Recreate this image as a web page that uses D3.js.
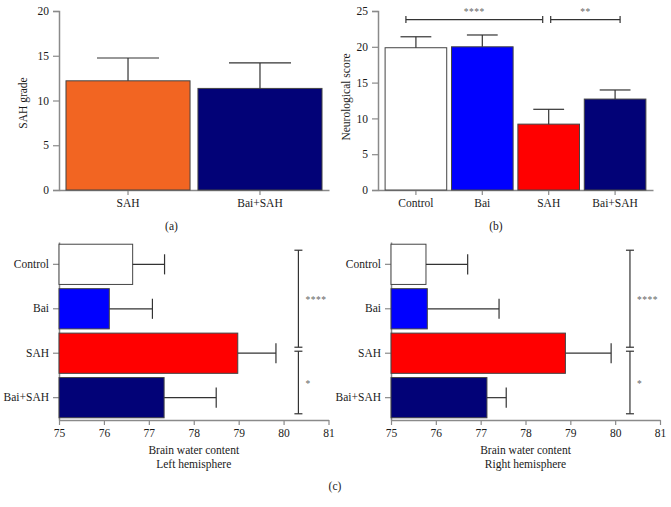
<!DOCTYPE html>
<html><head><meta charset="utf-8">
<script src="https://cdn.jsdelivr.net/npm/d3@7"></script>
<style>
body{margin:0;background:#fff;}
svg text{font-family:"Liberation Serif","Times New Roman",serif;}
</style></head>
<body>
<svg id="c" width="671" height="507"></svg>
<script>
// ---- Data ----
const gradeCats = ["SAH", "Bai+SAH"];
const gradeMean = [12.2, 11.35];
const gradeErr  = [14.75, 14.2];
const gradeColors = ["#f26522", "#020277"];

const neuroCats = ["Control", "Bai", "SAH", "Bai+SAH"];
const neuroMean = [19.87, 20.0, 9.2, 12.7];
const neuroErr  = [21.4, 21.65, 11.27, 13.97];

const waterCats = ["Control", "Bai", "SAH", "Bai+SAH"];
const leftMean  = [76.64, 76.12, 78.98, 77.34];
const leftErr   = [77.35, 77.08, 79.83, 78.5];
const rightMean = [75.78, 75.81, 78.89, 77.14];
const rightErr  = [76.71, 77.41, 79.91, 77.57];
const fourColors = ["#ffffff", "#0000ff", "#ff0000", "#020277"];

const gradeTicks = [0, 5, 10, 15, 20];
const neuroTicks = [0, 5, 10, 15, 20, 25];
const waterTicks = [75, 76, 77, 78, 79, 80, 81];

const svg = d3.select("#c");
const AXIS = "#8a8a8a", ERR = "#333", TXT = "#1a1a1a";

function styleAxis(g){
  g.select(".domain").attr("stroke", AXIS).attr("stroke-width", 1.5);
  g.selectAll(".tick line").attr("stroke", AXIS).attr("stroke-width", 1.2);
  g.selectAll(".tick text").attr("fill", TXT).attr("font-size", 11.5)
    .attr("font-family", '"Liberation Serif", serif');
}

// ---- Vertical bar panels ----
function vPanel(opt){
  const x = d3.scaleBand().domain(opt.cats).range(opt.xr)
    .paddingInner(opt.pi).paddingOuter(opt.po);
  const y = d3.scaleLinear().domain([0, opt.max]).range([190, 11]);
  const g = svg.append("g");
  g.append("g").attr("transform", `translate(${opt.xr[0]},0)`)
    .call(d3.axisLeft(y).tickValues(opt.ticks).tickFormat(d3.format("d")).tickSize(6).tickPadding(4)).call(styleAxis);
  g.append("g").attr("transform", `translate(0,190)`)
    .call(d3.axisBottom(x).tickSize(5).tickPadding(4).tickSizeOuter(0)).call(styleAxis);
  const data = opt.cats.map((c,i)=>({c, m:opt.mean[i], e:opt.err[i], col:opt.colors[i]}));
  g.selectAll("rect.b").data(data).join("rect")
    .attr("x", d=>x(d.c)).attr("width", x.bandwidth())
    .attr("y", d=>y(d.m)).attr("height", d=>y(0)-y(d.m))
    .attr("fill", d=>d.col).attr("stroke", "#444").attr("stroke-width", 1);
  const cx = d=>x(d.c)+x.bandwidth()/2;
  g.selectAll("line.ev").data(data).join("line")
    .attr("x1", cx).attr("x2", cx).attr("y1", d=>y(d.m)).attr("y2", d=>y(d.e))
    .attr("stroke", ERR).attr("stroke-width", 1.2);
  g.selectAll("line.ec").data(data).join("line")
    .attr("x1", d=>cx(d)-x.bandwidth()/4).attr("x2", d=>cx(d)+x.bandwidth()/4)
    .attr("y1", d=>y(d.e)).attr("y2", d=>y(d.e))
    .attr("stroke", ERR).attr("stroke-width", 1.2);
  g.append("text").attr("transform", `translate(${opt.titleX},${opt.titleY}) rotate(-90)`)
    .attr("text-anchor", "middle").attr("font-size", 11.5).attr("fill", TXT).text(opt.title);
  return {g, x, y};
}

vPanel({cats:gradeCats, mean:gradeMean, err:gradeErr, colors:gradeColors,
  xr:[59, 329], pi:0.06, po:0.053, max:20, ticks:gradeTicks,
  title:"SAH grade", titleX:27, titleY:103});

const pb = vPanel({cats:neuroCats, mean:neuroMean, err:neuroErr, colors:fourColors,
  xr:[378, 653], pi:0.072, po:0.107, max:25, ticks:neuroTicks,
  title:"Neurological score", titleX:350, titleY:97});

// significance in (b)
const neuroSig = [["Control","SAH","****",-10,-6],["SAH","Bai+SAH","**",2,5]];
const sigY = pb.y(23.8);
neuroSig.forEach(([a,b,s,oa,ob])=>{
  const xa = pb.x(a)+pb.x.bandwidth()/2+oa, xb = pb.x(b)+pb.x.bandwidth()/2+ob;
  pb.g.append("line").attr("x1",xa).attr("x2",xb).attr("y1",sigY).attr("y2",sigY)
    .attr("stroke",ERR).attr("stroke-width",1.2);
  [xa,xb].forEach(xx=>pb.g.append("line").attr("x1",xx).attr("x2",xx)
    .attr("y1",sigY-3.5).attr("y2",sigY+3.5).attr("stroke",ERR).attr("stroke-width",1.2));
  pb.g.append("text").attr("x",(xa+xb)/2).attr("y",pb.y(25)+4).attr("text-anchor","middle")
    .attr("font-size",9.5).attr("fill","#666").attr("letter-spacing",0.5).text(s);
});

// ---- Horizontal panels ----
function hPanel(opt){
  const x = d3.scaleLinear().domain([75, 81]).range(opt.xr);
  const y = d3.scaleBand().domain(waterCats).range([242, 420]).paddingInner(0.095).paddingOuter(0.05);
  const g = svg.append("g");
  g.append("g").attr("transform", `translate(${opt.xr[0]},0)`)
    .call(d3.axisLeft(y).tickSize(6).tickPadding(4).tickSizeOuter(0)).call(styleAxis);
  g.append("g").attr("transform", `translate(0,420)`)
    .call(d3.axisBottom(x).tickValues(waterTicks).tickFormat(d3.format("d")).tickSize(5).tickPadding(4).tickSizeOuter(0)).call(styleAxis);
  const data = waterCats.map((c,i)=>({c, m:opt.mean[i], e:opt.err[i], col:fourColors[i]}));
  g.selectAll("rect.b").data(data).join("rect")
    .attr("y", d=>y(d.c)).attr("height", y.bandwidth())
    .attr("x", x(75)).attr("width", d=>x(d.m)-x(75))
    .attr("fill", d=>d.col).attr("stroke", "#444").attr("stroke-width", 1);
  const cy = d=>y(d.c)+y.bandwidth()/2;
  g.selectAll("line.ev").data(data).join("line")
    .attr("y1", cy).attr("y2", cy).attr("x1", d=>x(d.m)).attr("x2", d=>x(d.e))
    .attr("stroke", ERR).attr("stroke-width", 1.2);
  g.selectAll("line.ec").data(data).join("line")
    .attr("y1", d=>cy(d)-y.bandwidth()/4).attr("y2", d=>cy(d)+y.bandwidth()/4)
    .attr("x1", d=>x(d.e)).attr("x2", d=>x(d.e))
    .attr("stroke", ERR).attr("stroke-width", 1.2);
  const tx = (opt.xr[0]+opt.xr[1])/2;
  g.append("text").attr("x", tx).attr("y", 454).attr("text-anchor","middle")
    .attr("font-size", 11.5).attr("fill", TXT).text("Brain water content");
  g.append("text").attr("x", tx).attr("y", 467.5).attr("text-anchor","middle")
    .attr("font-size", 11.5).attr("fill", TXT).text(opt.sub);
  // brackets
  const bx = x(80.33);
  const c = k=>y(k)+y.bandwidth()/2;
  const brackets = [[y("Control")+6, c("SAH")-6, "****"], [c("SAH")-2, y("Bai+SAH")+y.bandwidth()-4, "*"]];
  brackets.forEach(([y1,y2,s])=>{
    g.append("line").attr("x1",bx).attr("x2",bx).attr("y1",y1).attr("y2",y2)
      .attr("stroke",ERR).attr("stroke-width",1.2);
    [y1,y2].forEach(yy=>g.append("line").attr("x1",bx-4).attr("x2",bx+4)
      .attr("y1",yy).attr("y2",yy).attr("stroke",ERR).attr("stroke-width",1.2));
    g.append("text").attr("x",bx+7).attr("y",(y1+y2)/2+4).attr("font-size",9.5)
      .attr("fill","#666").attr("letter-spacing",0.5).text(s);
  });
}
hPanel({mean:leftMean, err:leftErr, xr:[59, 328.5], sub:"Left hemisphere"});
hPanel({mean:rightMean, err:rightErr, xr:[391, 660], sub:"Right hemisphere"});

// panel labels
[["(a)",171.5,230],["(b)",496,230],["(c)",335,489.5]].forEach(([t,x,y])=>
  svg.append("text").attr("x",x).attr("y",y).attr("text-anchor","middle")
    .attr("font-size",11.5).attr("fill",TXT).text(t));
</script>
</body></html>
